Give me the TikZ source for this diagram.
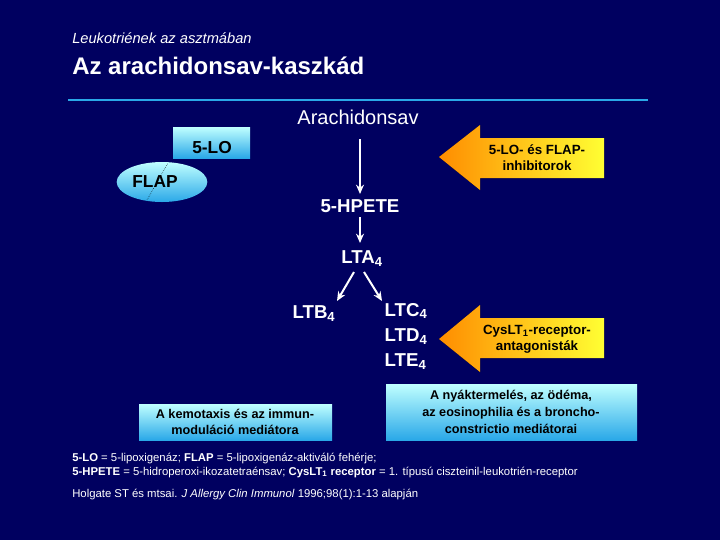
\documentclass[tikz,border=0pt]{standalone}
\usepackage{fontspec}
\setmainfont{Liberation Sans}
\usetikzlibrary{shapes.geometric,arrows.meta}
\definecolor{bg}{HTML}{000060}
\definecolor{lblue}{HTML}{2AA8E8}
\tikzset{
 wt/.style={text=white,font=\bfseries\fontsize{14}{16}\selectfont},
 cyanbox/.style={top color=cyan!25!white,bottom color=lblue,draw=none},
 yarrow/.style={left color=orange!90!yellow,right color=yellow!80!white,draw=none},
 warr/.style={white,line width=1.5pt,-{Stealth[length=7pt,width=6pt]}},
 btext/.style={text=black,font=\fontsize{10}{12}\selectfont,align=center},
}
\begin{document}
\begin{tikzpicture}[x=0.75pt,y=-0.75pt]
\fill[bg] (0,0) rectangle (720,540);
\useasboundingbox (0,0) rectangle (720,540);
\node[anchor=west,inner sep=0,text=white,font=\fontsize{11}{13}\selectfont\itshape] (sub) at (72,38) {Leukotriének az asztmában};
\node[anchor=west,inner sep=0,text=white,font=\fontsize{18}{20}\selectfont\bfseries] (title) at (72,66) {Az arachidonsav-kaszkád};
\draw[lblue,line width=2.2pt] (68,100) -- (648,100);
% FLAP / 5-LO
\node[ellipse,cyanbox,inner sep=0,minimum width=68pt,minimum height=30pt] (flap) at (162,182) {};
\node[text=black,font=\bfseries\fontsize{13}{15}\selectfont] (flapt) at (155,182) {FLAP};
\fill[cyanbox] (173,127) rectangle (250,158);
\node[text=black,font=\bfseries\fontsize{13}{15}\selectfont] (lo) at (212,148) {5-LO};
\draw[black,densely dotted,thin] (147,200) -- (168,163);
% chain
\node[text=white,font=\fontsize{15}{17}\selectfont] (ara) at (358,117) {Arachidonsav};
\node[wt] (hpete) at (360,206) {5-HPETE};
\node[wt] (lta) at (362,259) {LTA\textsubscript{4}};
\node[wt] (ltb) at (314,314) {LTB\textsubscript{4}};
\node[wt,anchor=west] (ltc) at (380,311) {LTC\textsubscript{4}};
\node[wt,anchor=west] (ltd) at (380,337) {LTD\textsubscript{4}};
\node[wt,anchor=west] (lte) at (380,362) {LTE\textsubscript{4}};
\draw[warr] (360,139) -- (360,194);
\draw[warr] (360,217) -- (360,243);
\draw[warr] (354,272) -- (337,301);
\draw[warr] (364,272) -- (382,301);
% yellow arrows
\fill[yarrow] (439,157) -- (480,125) -- (480,138) -- (604,138) -- (604,178) -- (480,178) -- (480,190) -- cycle;
\node[btext,font=\bfseries\fontsize{10}{12}\selectfont] (inh) at (537,158) {5-LO- és FLAP-\\inhibitorok};
\fill[yarrow] (439,339) -- (480,305) -- (480,318) -- (604,318) -- (604,358) -- (480,358) -- (480,372) -- cycle;
\node[btext,font=\bfseries\fontsize{10}{12}\selectfont] (ant) at (537,339) {CysLT\textsubscript{1}-receptor-\\antagonisták};
% bottom boxes
\fill[cyanbox] (139,404) rectangle (332,440);
\node[btext,font=\bfseries\fontsize{9.5}{12.5}\selectfont] (kem) at (235,422) {A kemotaxis és az immun-\\moduláció mediátora};
\fill[cyanbox] (386,384) rectangle (637,440);
\node[btext,font=\bfseries\fontsize{9.5}{12.5}\selectfont] (nyak) at (511,412) {A nyáktermelés, az ödéma,\\az eosinophilia és a broncho-\\constrictio mediátorai};
% footer
\node[anchor=west,inner sep=0,text=white,font=\fontsize{8.5}{10.5}\selectfont,align=left] (foot) at (72,465) {\textbf{5-LO} = 5-lipoxigenáz; \textbf{FLAP} = 5-lipoxigenáz-aktiváló fehérje;\\\textbf{5-HPETE} = 5-hidroperoxi-ikozatetraénsav; \textbf{CysLT\textsubscript{1} receptor} = 1. típusú ciszteinil-leukotrién-receptor};
\node[anchor=west,inner sep=0,text=white,font=\fontsize{8.5}{10.5}\selectfont] (ref) at (72,494) {Holgate ST és mtsai. \textit{J Allergy Clin Immunol} 1996;98(1):1-13 alapján};
\end{tikzpicture}
\end{document}
